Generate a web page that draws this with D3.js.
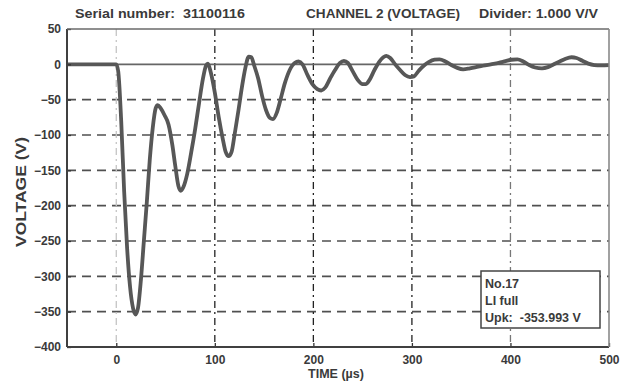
<!DOCTYPE html>
<html>
<head>
<meta charset="utf-8">
<script src="https://cdn.jsdelivr.net/npm/d3@7"></script>
<style>
  html, body { margin: 0; padding: 0; background: #fff; }
  svg text { font-family: "Liberation Sans", Arial, sans-serif; font-weight: bold; fill: #3a3a3a; white-space: pre; }
</style>
</head>
<body>
<svg id="chart" width="635" height="387"></svg>
<script>
// Recorded impulse: time (µs) and voltage (V)
const timeUs = [-50, 0, 2, 5, 8, 11, 14, 17, 19.5, 22, 25, 28, 31, 34, 37, 40, 42, 45, 49, 53, 57, 60, 63, 65.5, 68, 72, 76, 80, 84, 88, 91, 93, 96, 100, 104, 108, 111, 114, 117, 120, 124, 128, 131, 134.5, 137, 140, 144, 148, 152, 156, 159, 163, 167, 171, 176, 181, 185, 189, 194, 199, 204, 208, 212, 217, 222, 227, 231, 235, 240, 245, 250, 253, 257, 262, 267, 271, 274, 278, 283, 288, 293, 298, 302, 307, 312, 317, 323, 328, 334, 340, 346, 352, 358, 365, 372, 380, 388, 395, 401, 407, 413, 419, 425, 432, 438, 444, 450, 456, 462, 467, 473, 479, 485, 492, 500];
const voltage = [0, 0, -10, -80, -180, -260, -315, -345, -353.993, -345, -305, -250, -195, -135, -90, -62, -57.6, -62, -72, -85, -115, -145, -172, -179, -174, -155, -125, -92, -55, -20, -2, 1, -12, -40, -75, -105, -124, -130, -124, -100, -65, -28, -5, 11, 10, -2, -20, -45, -65, -76, -77.5, -68, -48, -27, -8, 2, 4, 0, -15, -28, -35, -37, -33, -20, -8, 2, 5, 2, -10, -22, -28, -28, -22, -8, 4, 10, 12, 9, 0, -8, -15, -18, -17, -9, -2, 3, 6.5, 7, 4, -1, -5, -7, -6, -4, -2, 0, 2, 4.5, 6.5, 7, 4, -1, -4.5, -5.7, -4, 0, 4, 8, 10, 9, 5, 1, -1, -1.5, -1];

const xTicks = [0, 100, 200, 300, 400, 500];
const yTicks = [50, 0, -50, -100, -150, -200, -250, -300, -350, -400];
const dashedLevels = [-50, -100, -150, -200, -250, -300, -350];
const timeGrid = [0, 100, 200, 300, 400];

const serialText = "Serial number:  31100116";
const channelText = "CHANNEL 2 (VOLTAGE)";
const dividerText = "Divider: 1.000 V/V";
const infoLines = ["No.17", "LI full", "Upk:  " + d3.min(voltage).toFixed(3) + " V"];

const plotLeft = 67, plotRight = 609, plotTop = 29, plotBottom = 347;

const svg = d3.select("#chart");
const x = d3.scaleLinear().domain([-50, 500]).range([plotLeft, plotRight]);
const y = d3.scaleLinear().domain([-400, 50]).range([plotBottom, plotTop]);

// header texts
const header = [
  { text: serialText, x: 75, w: 170 },
  { text: channelText, x: 306, w: 154 },
  { text: dividerText, x: 479, w: 119 }
];
svg.append("g").selectAll("text").data(header).join("text")
  .attr("x", d => d.x).attr("y", 17.5)
  .attr("font-size", 12.5)
  .attr("textLength", d => d.w).attr("lengthAdjust", "spacingAndGlyphs")
  .text(d => d.text);

// horizontal dashed grid
svg.append("g").selectAll("line").data(dashedLevels).join("line")
  .attr("x1", plotLeft).attr("x2", plotRight)
  .attr("y1", d => y(d)).attr("y2", d => y(d))
  .attr("stroke", "#505050").attr("stroke-width", 1.6)
  .attr("stroke-dasharray", "9,6");

// vertical dash-dot grid
svg.append("g").selectAll("line").data(timeGrid).join("line")
  .attr("x1", d => x(d)).attr("x2", d => x(d))
  .attr("y1", plotTop).attr("y2", plotBottom)
  .attr("stroke", (d, i) => i === 0 ? "#c4c4c4" : (i === 4 ? "#777" : "#222"))
  .attr("stroke-width", 1.3)
  .attr("stroke-dasharray", "7,4,2,4");

// zero reference line
svg.append("line")
  .attr("x1", plotLeft).attr("x2", plotRight).attr("y1", y(0)).attr("y2", y(0))
  .attr("stroke", "#666").attr("stroke-width", 1.6);

// waveform
const line = d3.line()
  .x((d, i) => x(timeUs[i]))
  .y(d => y(d))
  .curve(d3.curveMonotoneX);
svg.append("path").datum(voltage)
  .attr("d", line)
  .attr("fill", "none")
  .attr("stroke", "#575757")
  .attr("stroke-width", 3.8)
  .attr("stroke-linejoin", "round");

// axes
const yAxis = d3.axisLeft(y).tickValues(yTicks).tickSize(-4).tickPadding(6).tickFormat(d3.format("d"));
const gy = svg.append("g").attr("transform", `translate(${plotLeft},0)`).call(yAxis);
const xAxis = d3.axisBottom(x).tickValues(xTicks).tickSize(-4).tickPadding(8).tickFormat(d3.format("d"));
const gx = svg.append("g").attr("transform", `translate(0,${plotBottom})`).call(xAxis);
[gx, gy].forEach(g => {
  g.select(".domain").remove();
  g.selectAll(".tick line").attr("stroke", "#333").attr("stroke-width", 1.3);
  g.selectAll(".tick text").attr("font-size", 12).attr("fill", "#3a3a3a")
    .attr("font-family", "Liberation Sans, Arial, sans-serif").attr("font-weight", "bold");
});

// frame
svg.append("line").attr("x1", plotLeft).attr("x2", plotLeft).attr("y1", plotTop).attr("y2", plotBottom)
  .attr("stroke", "#404040").attr("stroke-width", 2);
svg.append("line").attr("x1", plotLeft).attr("x2", plotRight).attr("y1", plotBottom).attr("y2", plotBottom)
  .attr("stroke", "#404040").attr("stroke-width", 2);
svg.append("line").attr("x1", plotLeft).attr("x2", plotRight).attr("y1", plotTop).attr("y2", plotTop)
  .attr("stroke", "#6a6a6a").attr("stroke-width", 1.6);
svg.append("line").attr("x1", plotRight).attr("x2", plotRight).attr("y1", plotTop).attr("y2", plotBottom)
  .attr("stroke", "#8a8a8a").attr("stroke-width", 1.6);

// axis titles
svg.append("text").attr("x", 336).attr("y", 378).attr("text-anchor", "middle")
  .attr("font-size", 12.5).text("TIME (µs)");
svg.append("text").attr("transform", "translate(26,192) rotate(-90)").attr("text-anchor", "middle")
  .attr("font-size", 14).attr("textLength", 110).attr("lengthAdjust", "spacingAndGlyphs")
  .text("VOLTAGE (V)");

// info box
const box = svg.append("g").attr("transform", "translate(481,271)");
box.append("rect").attr("width", 119).attr("height", 57)
  .attr("fill", "#fff").attr("stroke", "#444").attr("stroke-width", 1.5);
box.selectAll("text").data(infoLines).join("text")
  .attr("x", 4).attr("y", (d, i) => 16.5 + i * 17)
  .attr("font-size", 12.5).text(d => d);
</script>
</body>
</html>
